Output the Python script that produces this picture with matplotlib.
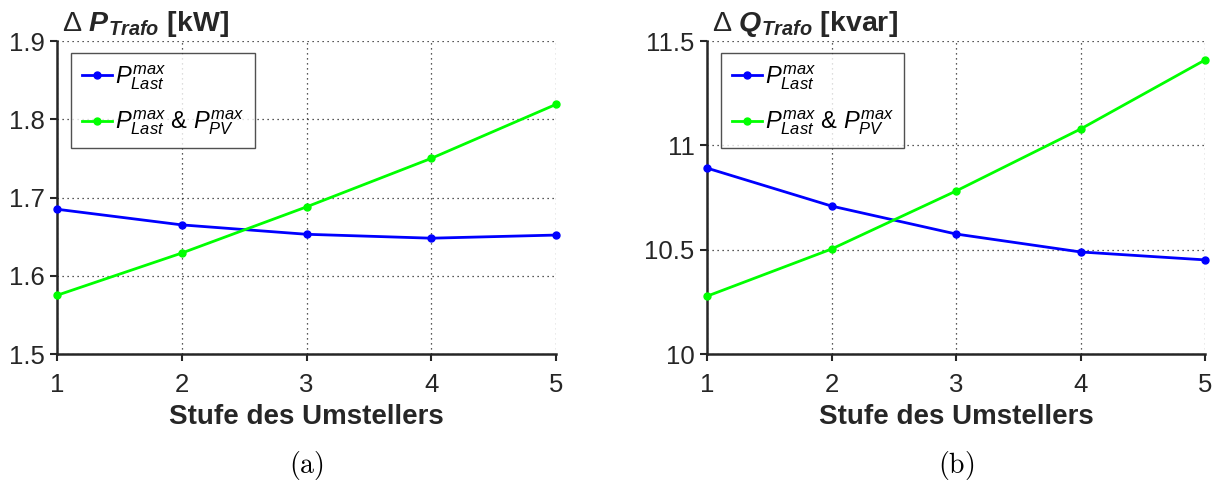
import matplotlib
matplotlib.use("Agg")
import matplotlib.pyplot as plt

plt.rcParams['font.family'] = ['Liberation Sans', 'DejaVu Sans']
plt.rcParams['mathtext.fontset'] = 'custom'
plt.rcParams['mathtext.rm'] = 'Liberation Sans'
plt.rcParams['mathtext.it'] = 'Liberation Sans:italic'
plt.rcParams['mathtext.bf'] = 'Liberation Sans:bold'
plt.rcParams['mathtext.bfit'] = 'Liberation Sans:italic:bold'

stufen = [1, 2, 3, 4, 5]
dP_last = [1.685, 1.665, 1.653, 1.648, 1.652]
dP_last_pv = [1.575, 1.629, 1.688, 1.750, 1.819]
dQ_last = [10.891, 10.709, 10.575, 10.489, 10.451]
dQ_last_pv = [10.277, 10.503, 10.781, 11.078, 11.409]

p_yticks = [1.5, 1.6, 1.7, 1.8, 1.9]
p_yticklabels = ['1.5', '1.6', '1.7', '1.8', '1.9']
q_yticks = [10, 10.5, 11, 11.5]
q_yticklabels = ['10', '10.5', '11', '11.5']

label_last = r'$P^{max}_{Last}$'
label_last_pv = r'$P^{max}_{Last}$ & $P^{max}_{PV}$'
xlabel = 'Stufe des Umstellers'
titles = [r'$\Delta$ $\mathbfit{P}_{\mathbfit{Trafo}}$ [kW]',
          r'$\Delta$ $\mathbfit{Q}_{\mathbfit{Trafo}}$ [kvar]']
captions = ['(a)', '(b)']

fig = plt.figure(figsize=(12.18, 4.86), dpi=100)
W, H = 1218, 486
ax1 = fig.add_axes([57/W, (H-354)/H, 499/W, 313/H])
ax2 = fig.add_axes([707/W, (H-354)/H, 498/W, 313/H])

gray = '#262626'
configs = [
    (ax1, dP_last, dP_last_pv, (1.5, 1.9), p_yticks, p_yticklabels),
    (ax2, dQ_last, dQ_last_pv, (10, 11.5), q_yticks, q_yticklabels),
]
for i, (ax, s1, s2, ylim, yt, ytl) in enumerate(configs):
    ax.plot(stufen, s1, color='#0000ff', lw=2, marker='o', ms=5, label=label_last, zorder=3, clip_on=False)
    ax.plot(stufen, s2, color='#00ff00', lw=2, marker='o', ms=5, label=label_last_pv, zorder=3, clip_on=False)
    ax.set_xlim(1, 5)
    ax.set_ylim(*ylim)
    ax.set_xticks(stufen)
    ax.set_xticklabels([str(s) for s in stufen])
    ax.set_yticks(yt)
    ax.set_yticklabels(ytl)
    ax.grid(True, linestyle=(0, (1, 3)), color='#222222', lw=0.9)
    for sp in ['top', 'right']:
        ax.spines[sp].set_visible(False)
    for sp in ['left', 'bottom']:
        ax.spines[sp].set_color(gray)
        ax.spines[sp].set_linewidth(1.8)
    ax.tick_params(direction='out', length=5, width=1.5, colors=gray, labelsize=18.5)
    ax.tick_params(axis='x', pad=9)
    ax.tick_params(axis='y', pad=4)
    ax.set_xlabel(xlabel, fontsize=20, fontweight='bold', color=gray, labelpad=5)
    leg = ax.legend(loc='upper left', bbox_to_anchor=(0.028, 0.962), fontsize=17, frameon=True,
                    fancybox=False, edgecolor=gray, handlelength=1.3, handletextpad=0.1,
                    borderpad=0.45, labelspacing=0.7, borderaxespad=0)
    leg.get_frame().set_linewidth(1.0)
    for t in leg.get_texts():
        t.set_color('black')
    ax.text(0.01, 1.032, titles[i], transform=ax.transAxes, fontsize=20.5, fontweight='bold',
            color=gray, ha='left', va='baseline')
    ax.text(0.5, -0.355, r'$\mathrm{' + captions[i] + '}$', transform=ax.transAxes, fontsize=20,
            ha='center', va='center', math_fontfamily='cm', color='black')

fig.savefig('out.png', dpi=100)
